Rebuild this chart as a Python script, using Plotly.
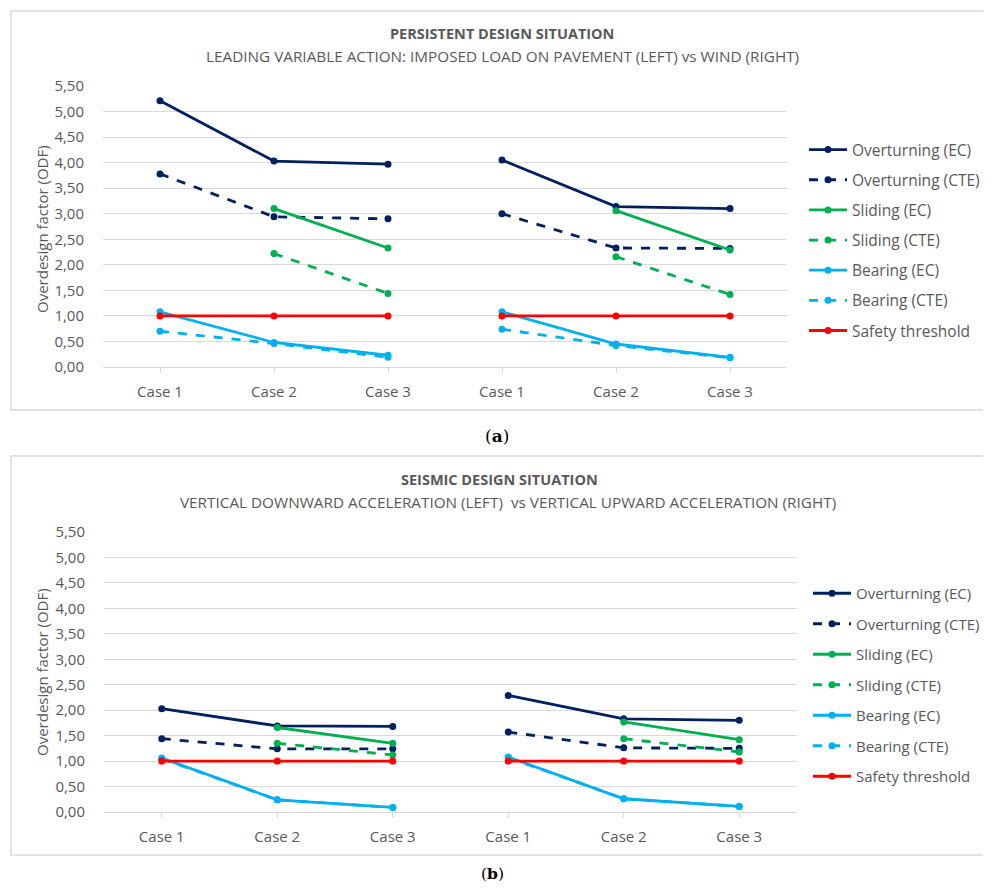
import plotly.graph_objects as go

# page has an 8px body margin, so the figure is sized to fit the 991x892 window
OFF = 8
FW, FH = 991 - 2 * OFF, 892 - 2 * OFF

# ---------------- data ----------------
cases = ["Case 1", "Case 2", "Case 3"]
series_names = ["Overturning (EC)", "Overturning (CTE)", "Sliding (EC)", "Sliding (CTE)",
                "Bearing (EC)", "Bearing (CTE)", "Safety threshold"]

# (a) persistent: left = imposed load on pavement, right = wind
a_overturning_ec_left = [5.21, 4.03, 3.97]
a_overturning_ec_right = [4.05, 3.14, 3.10]
a_overturning_cte_left = [3.78, 2.94, 2.90]
a_overturning_cte_right = [3.00, 2.33, 2.32]
a_sliding_ec_left = [None, 3.10, 2.33]
a_sliding_ec_right = [None, 3.06, 2.29]
a_sliding_cte_left = [None, 2.22, 1.44]
a_sliding_cte_right = [None, 2.16, 1.42]
a_bearing_ec_left = [1.08, 0.48, 0.23]
a_bearing_ec_right = [1.08, 0.45, 0.19]
a_bearing_cte_left = [0.70, 0.46, 0.19]
a_bearing_cte_right = [0.74, 0.42, 0.18]
a_safety_left = [1.00, 1.00, 1.00]
a_safety_right = [1.00, 1.00, 1.00]

# (b) seismic: left = vertical downward, right = vertical upward
b_overturning_ec_left = [2.03, 1.69, 1.68]
b_overturning_ec_right = [2.29, 1.83, 1.80]
b_overturning_cte_left = [1.44, 1.24, 1.24]
b_overturning_cte_right = [1.57, 1.26, 1.25]
b_sliding_ec_left = [None, 1.66, 1.35]
b_sliding_ec_right = [None, 1.77, 1.42]
b_sliding_cte_left = [None, 1.35, 1.12]
b_sliding_cte_right = [None, 1.44, 1.18]
b_bearing_ec_left = [1.06, 0.24, 0.09]
b_bearing_ec_right = [1.08, 0.26, 0.11]
b_bearing_cte_left = [1.05, 0.24, 0.09]
b_bearing_cte_right = [1.07, 0.26, 0.11]
b_safety_left = [1.00, 1.00, 1.00]
b_safety_right = [1.00, 1.00, 1.00]

y_ticks = [0, 0.5, 1, 1.5, 2, 2.5, 3, 3.5, 4, 4.5, 5, 5.5]

# ---------------- styles ----------------
NAVY = "#002060"
GREEN = "#00B050"
LBLUE = "#00B0F0"
RED = "#FF0000"
GRAY = "#595959"
GRID = "#D9D9D9"
FONT = "Open Sans"

styles = [
    (NAVY, "solid"), (NAVY, "dash"),
    (GREEN, "solid"), (GREEN, "dash"),
    (LBLUE, "solid"), (LBLUE, "dash"),
    (RED, "solid"),
]

panel_a = [
    (a_overturning_ec_left, a_overturning_ec_right),
    (a_overturning_cte_left, a_overturning_cte_right),
    (a_sliding_ec_left, a_sliding_ec_right),
    (a_sliding_cte_left, a_sliding_cte_right),
    (a_bearing_ec_left, a_bearing_ec_right),
    (a_bearing_cte_left, a_bearing_cte_right),
    (a_safety_left, a_safety_right),
]
panel_b = [
    (b_overturning_ec_left, b_overturning_ec_right),
    (b_overturning_cte_left, b_overturning_cte_right),
    (b_sliding_ec_left, b_sliding_ec_right),
    (b_sliding_cte_left, b_sliding_cte_right),
    (b_bearing_ec_left, b_bearing_ec_right),
    (b_bearing_cte_left, b_bearing_cte_right),
    (b_safety_left, b_safety_right),
]

# category slots: left group 0..2, right group 3..5, gap (None) between
x_slots = [0, 1, 2, None, 3, 4, 5]
tick_vals = [0, 1, 2, 3, 4, 5]
tick_text = cases + cases

fig = go.Figure()

for panel, xa, ya, leg in ((panel_a, "x", "y", "legend"), (panel_b, "x2", "y2", "legend2")):
    for name, (left, right), (color, dash) in zip(series_names, panel, styles):
        yvals = list(left) + [None] + list(right)
        fig.add_trace(go.Scatter(
            x=x_slots, y=yvals, name=name, mode="lines+markers",
            line=dict(color=color, width=2.8, dash=dash),
            marker=dict(color=color, size=7, symbol="circle"),
            connectgaps=False, xaxis=xa, yaxis=ya, legend=leg,
            legendgroup=name + leg,
        ))


def fx(px):
    return (px - OFF) / FW


def fy(py):
    return 1 - (py - OFF) / FH


axis_common_x = dict(
    tickmode="array", tickvals=tick_vals, ticktext=tick_text, range=[-0.5, 5.5],
    showgrid=False, zeroline=False, showline=True, linecolor=GRID, linewidth=1,
    ticks="outside", ticklen=5, tickcolor=GRID, automargin=False,
    tickfont=dict(family=FONT, size=15, color=GRAY), ticklabelstandoff=6,
)
axis_common_y = dict(
    tickmode="array", tickvals=y_ticks, tickformat=".2f", range=[0, 5.5001],
    showgrid=True, gridcolor=GRID, gridwidth=1, zeroline=False, showline=False,
    automargin=False,
    tickfont=dict(family=FONT, size=15, color=GRAY), ticklabelstandoff=18,
)


def legend_style(size, gap):
    return dict(
        font=dict(family=FONT, size=size, color=GRAY), bgcolor="rgba(0,0,0,0)",
        xanchor="left", yanchor="top", tracegroupgap=gap, itemwidth=38,
    )


fig.update_layout(
    width=FW, height=FH, margin=dict(l=0, r=0, t=0, b=0, autoexpand=False),
    paper_bgcolor="white", plot_bgcolor="white", separators=",.",
    xaxis=dict(domain=[fx(103), fx(787)], anchor="y", **axis_common_x),
    yaxis=dict(domain=[fy(367), fy(86)], anchor="x", **axis_common_y),
    xaxis2=dict(domain=[fx(104), fx(797)], anchor="y2", **axis_common_x),
    yaxis2=dict(domain=[fy(812), fy(532)], anchor="x2", **axis_common_y),
    legend=dict(x=fx(804), y=fy(133), **legend_style(15.5, 7)),
    legend2=dict(x=fx(808), y=fy(577), **legend_style(15, 8)),
    showlegend=True,
)

# outer frames
fig.add_shape(type="rect", xref="paper", yref="paper",
              x0=fx(11), x1=fx(984), y0=fy(410), y1=fy(11),
              line=dict(color=GRID, width=1.5), layer="below")
fig.add_shape(type="rect", xref="paper", yref="paper",
              x0=fx(11), x1=fx(1010), y0=fy(855), y1=fy(456),
              line=dict(color=GRID, width=1.5), layer="below")

annots = [
    ("<b>PERSISTENT DESIGN SITUATION</b>", 502, 33, 14.5, 0),
    ("LEADING VARIABLE ACTION: IMPOSED LOAD ON PAVEMENT (LEFT) vs WIND (RIGHT)", 502, 56, 15.3, 0),
    ("<b>SEISMIC DESIGN SITUATION</b>", 499, 479, 14.5, 0),
    ("VERTICAL DOWNWARD ACCELERATION (LEFT)  vs VERTICAL UPWARD ACCELERATION (RIGHT)", 508, 502, 15.3, 0),
    ("Overdesign factor (ODF)", 42, 229, 15, -90),
    ("Overdesign factor (ODF)", 42, 672, 15, -90),
]
for text, x, y, size, angle in annots:
    fig.add_annotation(text=text, x=fx(x), y=fy(y), xref="paper", yref="paper",
                       showarrow=False, textangle=angle,
                       font=dict(family=FONT, size=size, color=GRAY),
                       xanchor="center", yanchor="middle")

for text, x, y, size in (("(<b>a</b>)", 497, 436, 17), ("(<b>b</b>)", 492, 873, 15.5)):
    fig.add_annotation(text=text, x=fx(x), y=fy(y), xref="paper", yref="paper",
                       showarrow=False, font=dict(family="DejaVu Serif", size=size, color="black"),
                       xanchor="center", yanchor="middle")

fig.write_html("out.html")
